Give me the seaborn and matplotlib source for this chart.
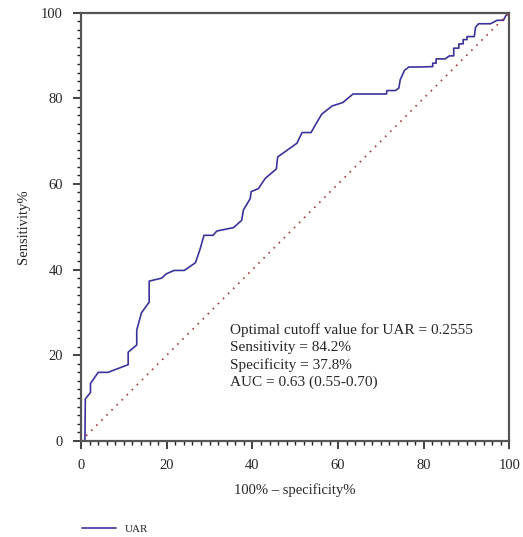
import numpy as np
import pandas as pd
import matplotlib.pyplot as plt
import seaborn as sns
from matplotlib.ticker import MultipleLocator

# ROC curve points for UAR (100% - specificity, sensitivity)
fpr = [0.2, 0.9, 1.0, 2.2, 2.2, 4.0, 6.3, 11.0, 11.0, 13.0, 13.0, 14.1, 15.9, 15.9,
       18.8, 19.9, 21.7, 24.1, 26.7, 27.7, 28.7, 30.8, 31.7, 35.6, 37.5, 37.9, 39.5,
       39.7, 41.4, 43.0, 45.6, 45.9, 50.4, 51.6, 53.7, 54.7, 56.2, 58.6, 61.1, 63.5,
       71.3, 71.4, 73.4, 74.2, 74.5, 75.5, 76.5, 79.2, 82.1, 82.1, 82.9, 82.9, 85.0,
       86.0, 87.0, 87.0, 88.2, 88.2, 89.2, 89.2, 90.1, 90.1, 91.8, 92.1, 92.8, 95.6,
       97.1, 98.6, 99.1, 99.8]
tpr = [0.0, 0.0, 9.8, 11.3, 13.4, 16.0, 16.0, 17.8, 20.7, 22.4, 25.9, 29.9, 32.4, 37.3,
       38.0, 39.0, 39.8, 39.8, 41.6, 44.5, 48.0, 48.0, 49.0, 49.8, 51.5, 53.9, 56.6,
       58.2, 58.9, 61.3, 63.5, 66.3, 69.5, 72.0, 72.0, 73.8, 76.3, 78.2, 79.0, 81.0,
       81.0, 81.8, 81.8, 82.4, 84.3, 86.5, 87.3, 87.3, 87.4, 88.2, 88.2, 89.2, 89.2,
       89.9, 89.9, 91.7, 91.7, 92.7, 92.7, 93.7, 93.7, 94.4, 94.4, 96.6, 97.4, 97.4,
       98.2, 98.2, 99.2, 100.0]
ref_line = [0, 100]

df = pd.DataFrame({"fpr": fpr, "tpr": tpr})

sns.set_style("ticks")
plt.rcParams["font.family"] = ["Liberation Serif", "DejaVu Serif"]

fig = plt.figure(figsize=(5.23, 5.37), dpi=100)
ax = fig.add_axes([0.155, 0.179, 0.819, 0.7975])

sns.lineplot(data=df, x="fpr", y="tpr", sort=False, estimator=None,
             color="#3a339a", lw=1.2, label="UAR", ax=ax)
# chance line
ax.plot(ref_line, ref_line, ls=(0, (1, 3.3)), color="#a03a3a", lw=1.2)

ax.set_xlim(0, 100)
ax.set_ylim(0, 100)
ax.xaxis.set_major_locator(MultipleLocator(20))
ax.yaxis.set_major_locator(MultipleLocator(20))
ax.xaxis.set_minor_locator(MultipleLocator(2))
ax.yaxis.set_minor_locator(MultipleLocator(2))
ax.tick_params(which="major", length=6, width=1.2, color="#222222", labelsize=10.5, pad=7)
ax.tick_params(which="minor", length=3, width=1, color="#222222")
for s in ax.spines.values():
    s.set_color("#555555")
    s.set_linewidth(1.6)

ax.set_xlabel("100% \u2013 specificity%", fontsize=10.5, labelpad=8)
ax.set_ylabel("Sensitivity%", fontsize=10.5, labelpad=8)

ax.text(34.8, 19.8, "Optimal cutoff value for UAR = 0.2555\nSensitivity = 84.2%\n"
        "Specificity = 37.8%\nAUC = 0.63 (0.55-0.70)",
        fontsize=11, va="center", ha="left", linespacing=1.4)

ax.legend(loc="upper left", bbox_to_anchor=(-0.02, -0.172), frameon=False,
          fontsize=8, handlelength=3.0, handletextpad=0.8)

fig.savefig("out.png", dpi=100)
